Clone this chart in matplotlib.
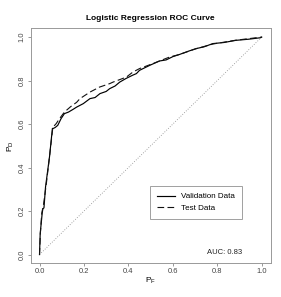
import matplotlib
matplotlib.use("Agg")
import matplotlib.pyplot as plt

plt.rcParams["font.family"] = ["Liberation Sans", "DejaVu Sans"]
plt.rcParams["mathtext.fontset"] = "custom"
plt.rcParams["mathtext.rm"] = "Liberation Sans"

# validation ROC (solid)
val_fpr = [0, 0.003, 0.012, 0.015, 0.02, 0.027, 0.045, 0.058, 0.062, 0.07, 0.082,
           0.097, 0.112, 0.13, 0.15, 0.167, 0.182, 0.197, 0.227, 0.25, 0.272, 0.3,
           0.316, 0.34, 0.361, 0.39, 0.42, 0.436, 0.45, 0.496, 0.54, 0.57, 0.6,
           0.63, 0.67, 0.705, 0.74, 0.78, 0.83, 0.884, 0.94, 0.995, 1.0]
val_tpr = [0, 0.096, 0.19, 0.21, 0.215, 0.31, 0.45, 0.58, 0.58, 0.584, 0.594,
           0.625, 0.648, 0.655, 0.667, 0.678, 0.686, 0.694, 0.717, 0.722, 0.74, 0.75,
           0.763, 0.775, 0.793, 0.81, 0.825, 0.832, 0.847, 0.87, 0.89, 0.895, 0.91,
           0.92, 0.935, 0.947, 0.955, 0.97, 0.975, 0.985, 0.99, 0.997, 1.0]

# test ROC (dashed)
test_fpr = [0, 0.004, 0.01, 0.018, 0.03, 0.045, 0.06, 0.075, 0.09, 0.112, 0.14,
            0.167, 0.182, 0.227, 0.27, 0.316, 0.331, 0.391, 0.42, 0.45, 0.51, 0.54,
            0.585, 0.63, 0.7, 0.78, 0.88, 1.0]
test_tpr = [0, 0.1, 0.19, 0.23, 0.32, 0.45, 0.585, 0.602, 0.625, 0.655, 0.68,
            0.70, 0.717, 0.747, 0.77, 0.786, 0.793, 0.816, 0.839, 0.855, 0.878, 0.89,
            0.908, 0.92, 0.945, 0.968, 0.985, 1.0]

ticks = [0.0, 0.2, 0.4, 0.6, 0.8, 1.0]
auc_text = "AUC: 0.83"

fig = plt.figure(figsize=(2.81, 2.97), dpi=100)
ax = fig.add_axes([0.109, 0.1135, 0.854, 0.791])

ax.plot([0, 1], [0, 1], color="#888888", lw=0.6, ls=(0, (1, 2)))
ax.plot(val_fpr, val_tpr, color="black", lw=0.85, label="Validation Data")
ax.plot(test_fpr, test_tpr, color="#111111", lw=0.8, ls=(0, (6, 3)), label="Test Data")

ax.set_xlim(-0.04, 1.04)
ax.set_ylim(-0.04, 1.04)
ax.set_xticks(ticks)
ax.set_yticks(ticks)
ax.set_xticklabels([f"{t:.1f}" for t in ticks])
ax.set_yticklabels([f"{t:.1f}" for t in ticks], rotation=90, va="center")
ax.tick_params(length=2.0, width=0.6, color="#888888", labelsize=5.4,
               labelcolor="#444444", pad=1.5)

for s in ax.spines.values():
    s.set_color("#999999")
    s.set_linewidth(0.7)

ax.set_title("Logistic Regression ROC Curve", fontsize=6, fontweight="bold", pad=6)
ax.set_xlabel(r"$\mathrm{P_F}$", fontsize=6, labelpad=0.5)
ax.set_ylabel(r"$\mathrm{P_D}$", fontsize=6, labelpad=2)

leg = ax.legend(loc="lower right", bbox_to_anchor=(0.882, 0.187), fontsize=5.8,
                frameon=True, fancybox=False, edgecolor="#888888",
                handlelength=2.2, handletextpad=0.8, borderpad=0.9,
                labelspacing=0.5, borderaxespad=0)
leg.get_frame().set_linewidth(0.7)

ax.text(0.882, 0.044, auc_text, transform=ax.transAxes, ha="right", va="center",
        fontsize=5.5, color="#222222")

fig.savefig("out.png", dpi=100)
